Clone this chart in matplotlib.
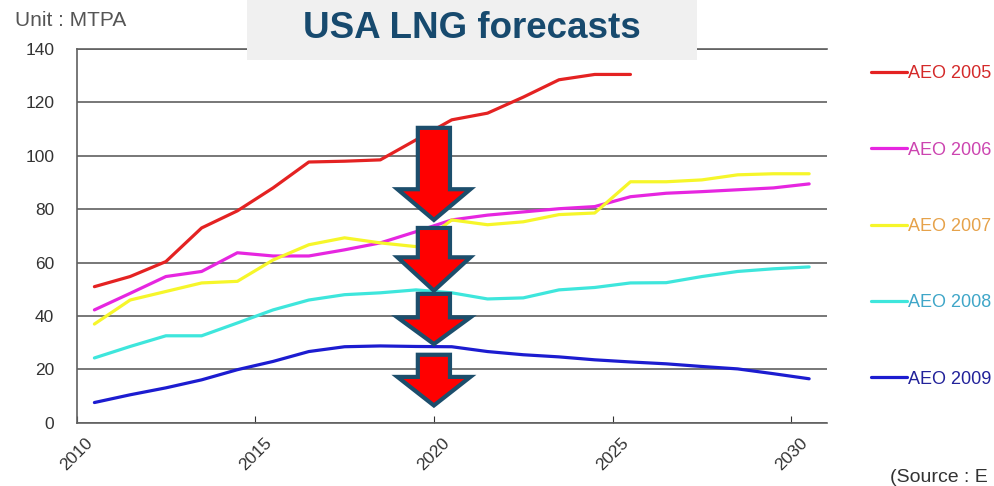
import numpy as np
import matplotlib
matplotlib.use("Agg")
import matplotlib.pyplot as plt
from matplotlib.patches import Rectangle, Polygon

plt.rcParams['font.family'] = ['Liberation Sans', 'DejaVu Sans']

# data (MTPA), one value per forecast year
years = np.arange(2010, 2031)
aeo2005 = [51, 54.8, 60.4, 73, 79.4, 88, 97.7, 98, 98.5, 106, 113.5,
           116, 122, 128.5, 130.5, 130.5]
aeo2006 = [42.3, 48.5, 54.8, 56.7, 63.7, 62.5, 62.5, 64.8, 67.4, 71.6, 76,
           77.8, 79, 80.2, 81, 84.7, 86, 86.6, 87.3, 88, 89.5]
aeo2007 = [37, 46, 49.2, 52.4, 53, 61, 66.7, 69.3, 67.4, 66, 76,
           74.2, 75.3, 78, 78.6, 90.3, 90.3, 91, 92.9, 93.3, 93.3]
aeo2008 = [24.3, 28.6, 32.6, 32.6, 37.4, 42.3, 46, 48, 48.7, 49.8, 48.7,
           46.4, 46.8, 49.8, 50.7, 52.4, 52.5, 54.8, 56.7, 57.7, 58.4]
aeo2009 = [7.6, 10.5, 13.1, 16.1, 19.9, 23, 26.7, 28.5, 28.8, 28.6, 28.5,
           26.7, 25.5, 24.7, 23.6, 22.8, 22.1, 21.1, 20.2, 18.4, 16.5]

series = [
    ("AEO 2005", aeo2005, "#e42222", "#d42a2a"),
    ("AEO 2006", aeo2006, "#e626e0", "#cc44b0"),
    ("AEO 2007", aeo2007, "#f6f62a", "#e6a24a"),
    ("AEO 2008", aeo2008, "#3ee6dc", "#3fa6c8"),
    ("AEO 2009", aeo2009, "#1c1cd0", "#22229a"),
]

# the four "down" arrows: (top, shoulder, tip) in MTPA
arrows = [(110.5, 87.5, 76), (73, 62, 49.5), (48.3, 39.5, 29.5), (25.5, 17.2, 6.5)]

fig = plt.figure(figsize=(9.94, 4.86), dpi=100)
ax = fig.add_axes([0.077, 0.130, 0.755, 0.769])

handles = []
for name, vals, col, _ in series:
    x = years[:len(vals)] + 0.5   # points sit in the middle of each year
    h, = ax.plot(x, vals, color=col, lw=2.3, solid_capstyle='round', label=name)
    handles.append(h)

ax.set_xlim(2010, 2031)
ax.set_ylim(0, 140)
ax.set_xticks([2010, 2015, 2020, 2025, 2030])
ax.set_yticks(np.arange(0, 141, 20))
ax.tick_params(axis='x', direction='in', length=5, color='#333333',
               labelsize=12.5, labelcolor='#333333', pad=9, labelrotation=45)
ax.tick_params(axis='y', length=0, labelsize=12.5, labelcolor='#333333', pad=16)
for lab in ax.get_xticklabels():
    lab.set_ha('center')
ax.grid(axis='y', color='#606060', lw=1.2)
ax.set_axisbelow(True)
ax.spines['right'].set_visible(False)
for s in ['left', 'bottom', 'top']:
    ax.spines[s].set_color('#606060')
    ax.spines[s].set_linewidth(1.2)

# arrows
cx, shaft, head = 2020.0, 0.45, 1.02
for top, sh, tip in arrows:
    pts = [(cx - shaft, top), (cx + shaft, top), (cx + shaft, sh), (cx + head, sh),
           (cx, tip), (cx - head, sh), (cx - shaft, sh)]
    ax.add_patch(Polygon(pts, closed=True, facecolor='#ff0000',
                         edgecolor='#1c4e6c', lw=3, joinstyle='miter', zorder=10))

# legend
leg = ax.legend(handles=handles, loc='upper left', bbox_to_anchor=(0.876, 0.866),
                bbox_transform=fig.transFigure, frameon=False, fontsize=13,
                handlelength=2.0, handletextpad=0.05, labelspacing=3.29,
                borderpad=0, borderaxespad=0,
                labelcolor=[c[3] for c in series])

# title box
fig.add_artist(Rectangle((247 / 994, 1 - 60 / 486), 450 / 994, 60 / 486,
                         transform=fig.transFigure, facecolor='#f0f0f0',
                         edgecolor='none', zorder=5))
fig.text(472 / 994, 1 - 28 / 486, "USA LNG forecasts", ha='center', va='center',
         fontsize=26.5, fontweight='bold', color='#174a6e', zorder=6)

fig.text(15 / 994, 1 - 20 / 486, "Unit : MTPA", ha='left', va='center',
         fontsize=15, color='#555555')
fig.text(890 / 994, 1 - 477 / 486, "(Source : E", ha='left', va='center',
         fontsize=14, color='#333333')

fig.savefig("out.png", dpi=100)
